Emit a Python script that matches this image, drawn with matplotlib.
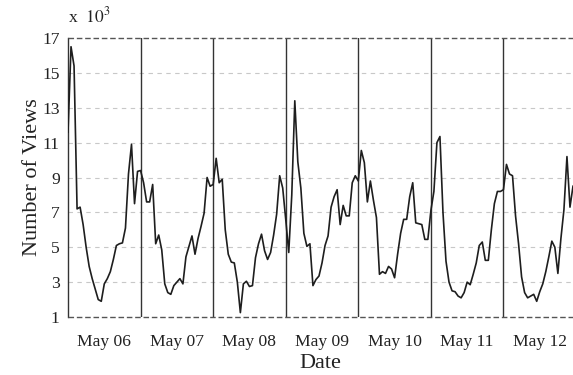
import matplotlib
matplotlib.use("Agg")
import matplotlib.pyplot as plt
import matplotlib.dates as mdates
import numpy as np
import pandas as pd

# Hourly page views (thousands), one list per day
views_may06 = [11.6, 16.5, 15.4, 7.2, 7.3, 6.3, 5.0, 3.9, 3.2, 2.6, 2.0, 1.9,
               2.9, 3.2, 3.6, 4.3, 5.1, 5.2, 5.25, 6.1, 9.2, 10.9, 7.5, 9.35]
views_may07 = [9.4, 8.7, 7.6, 7.6, 8.6, 5.2, 5.7, 4.85, 2.9, 2.4, 2.3, 2.8,
               3.0, 3.2, 2.9, 4.45, 5.05, 5.65, 4.6, 5.5, 6.2, 6.95, 9.0, 8.5]
views_may08 = [8.6, 10.1, 8.7, 8.9, 6.0, 4.6, 4.15, 4.1, 3.0, 1.25, 2.9, 3.05,
               2.75, 2.8, 4.4, 5.2, 5.75, 4.8, 4.3, 4.7, 5.7, 6.9, 9.1, 8.4]
views_may09 = [6.6, 4.7, 8.0, 13.4, 9.9, 8.4, 5.8, 5.05, 5.2, 2.8, 3.15, 3.35,
               4.1, 5.1, 5.65, 7.3, 7.9, 8.3, 6.3, 7.4, 6.8, 6.8, 8.7, 9.1]
views_may10 = [8.8, 10.55, 9.85, 7.6, 8.8, 7.7, 6.7, 3.45, 3.6, 3.5, 3.9, 3.75,
               3.25, 4.6, 5.8, 6.6, 6.6, 7.9, 8.7, 6.4, 6.35, 6.3, 5.45, 5.45]
views_may11 = [7.1, 8.2, 11.0, 11.35, 7.0, 4.2, 3.0, 2.5, 2.45, 2.2, 2.1, 2.4,
               3.0, 2.85, 3.45, 4.1, 5.1, 5.3, 4.25, 4.25, 6.0, 7.5, 8.2, 8.2]
views_may12 = [8.3, 9.75, 9.2, 9.1, 6.8, 5.2, 3.3, 2.4, 2.1, 2.2, 2.3, 1.9,
               2.45, 2.9, 3.6, 4.45, 5.35, 5.0, 3.5, 5.5, 7.15, 10.2, 7.3, 8.5]

first_day = "2013-05-06"
n_days = 7
y_ticks = [1, 3, 5, 7, 9, 11, 13, 15, 17]

views = np.concatenate([views_may06, views_may07, views_may08, views_may09,
                        views_may10, views_may11, views_may12])
hours = pd.date_range(first_day, periods=len(views), freq="h")
days = pd.date_range(first_day, periods=n_days, freq="D")

plt.rcParams["font.family"] = ["Liberation Serif", "DejaVu Serif"]
plt.rcParams["text.color"] = "#222222"
plt.rcParams["axes.labelcolor"] = "#222222"
plt.rcParams["xtick.color"] = "#222222"
plt.rcParams["ytick.color"] = "#222222"

fig = plt.figure(figsize=(5.73, 3.75), dpi=100, facecolor="white")
ax = fig.add_axes([68 / 573, 1 - 317 / 375, 505 / 573, 279 / 375])

# light dashed grid at every tick, darker dashed lines at the limits
for y in y_ticks[1:-1]:
    ax.axhline(y, color="#c8c8c8", lw=0.8, ls=(0, (4, 4)), zorder=1)
for y in (y_ticks[0], y_ticks[-1]):
    ax.axhline(y, color="#555555", lw=1.0, ls=(0, (4, 2)), zorder=3,
               clip_on=False)

# day boundaries
for d in days[1:]:
    ax.axvline(d, color="#333333", lw=1.0, zorder=2)

ax.plot(hours, views, color="#1e1e1e", lw=1.2, zorder=4)

ax.set_xlim(hours[0], hours[-1])
ax.set_ylim(y_ticks[0], y_ticks[-1])
ax.set_yticks(y_ticks)
ax.set_xticks(days + pd.Timedelta(hours=12))
ax.xaxis.set_major_formatter(mdates.DateFormatter("%b %d"))
ax.tick_params(axis="y", length=0, pad=6, labelsize=12.6)
ax.tick_params(axis="x", length=0, pad=12, labelsize=12.6)

for side in ("top", "bottom", "right"):
    ax.spines[side].set_visible(False)
ax.spines["left"].set_color("#333333")
ax.spines["left"].set_linewidth(1.0)

ax.set_xlabel("Date", fontsize=16, labelpad=3)
ax.set_ylabel("Number of Views", fontsize=16, labelpad=0)
fig.text(68 / 573, 1 - 22 / 375, r"x  $10^3$", fontsize=12.6,
         ha="left", va="baseline", math_fontfamily="stix")

fig.savefig("out.png", dpi=100, facecolor="white")
